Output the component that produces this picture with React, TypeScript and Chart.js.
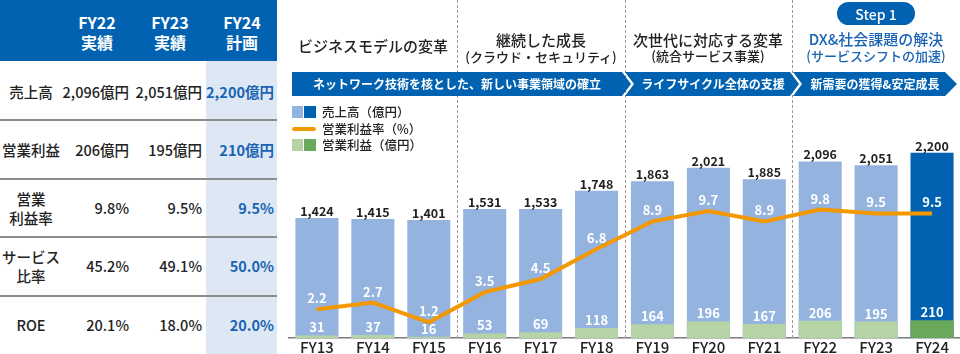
import React, { useEffect, useRef } from "react";
import { Chart, registerables } from "chart.js";
Chart.register(...registerables);

// ---------- data ----------
const categories = ["FY13", "FY14", "FY15", "FY16", "FY17", "FY18", "FY19", "FY20", "FY21", "FY22", "FY23", "FY24"];
const revenue = [1424, 1415, 1401, 1531, 1533, 1748, 1863, 2021, 1885, 2096, 2051, 2200];
const opProfit = [31, 37, 16, 53, 69, 118, 164, 196, 167, 206, 195, 210];
const opMargin = [2.2, 2.7, 1.2, 3.5, 4.5, 6.8, 8.9, 9.7, 8.9, 9.8, 9.5, 9.5];

const tableColumns = ["FY22", "FY23", "FY24"];
const tableColumnSub = ["実績", "実績", "計画"];
const tableRowLabels = [["売上高"], ["営業利益"], ["営業", "利益率"], ["サービス", "比率"], ["ROE"]];
const tableFY22 = ["2,096億円", "206億円", "9.8%", "45.2%", "20.1%"];
const tableFY23 = ["2,051億円", "195億円", "9.5%", "49.1%", "18.0%"];
const tableFY24 = ["2,200億円", "210億円", "9.5%", "50.0%", "20.0%"];

const phaseTitles = ["ビジネスモデルの変革", "継続した成長", "次世代に対応する変革", "DX&社会課題の解決"];
const phaseSubtitles = ["", "(クラウド・セキュリティ)", "(統合サービス事業)", "(サービスシフトの加速)"];
const stepLabel = "Step 1";
const bannerTexts = ["ネットワーク技術を核とした、新しい事業領域の確立", "ライフサイクル全体の支援", "新需要の獲得&安定成長"];
const legendLabels = ["売上高（億円）", "営業利益率（%）", "営業利益（億円）"];

// ---------- styles ----------
const FONT = '"Noto Sans CJK JP", "Noto Sans", sans-serif';
const BLUE = "#0062b1";
const LIGHT_BLUE_BAR = "#94b4df";
const LIGHT_GREEN = "#b5d3a5";
const DARK_GREEN = "#6aa85b";
const ORANGE = "#f39800";
const TEXT = "#222222";
const BLUE_TEXT = "#1a64b4";

const fmt = (v: number) => v.toLocaleString("en-US");

const T = (p: { x: number; y: number; s: number; c?: string; w?: number; align?: string; children: any }) => {
  const tx = p.align === "right" ? "-100%" : p.align === "left" ? "0" : "-50%";
  return (
    <div
      style={{
        position: "absolute",
        left: p.x,
        top: p.y,
        transform: `translate(${tx},-50%)`,
        fontSize: p.s,
        color: p.c || TEXT,
        fontWeight: p.w || 500,
        whiteSpace: "nowrap",
        lineHeight: 1,
        fontFamily: FONT,
      }}
    >
      {p.children}
    </div>
  );
};

const labelsPlugin = {
  id: "valueLabels",
  beforeDatasetsDraw(chart: any) {
    const ctx = chart.ctx;
    const xs = chart.scales.x;
    const area = chart.chartArea;
    ctx.save();
    ctx.strokeStyle = "#9a9a9a";
    ctx.lineWidth = 1;
    ctx.setLineDash([3, 2]);
    [2, 5, 8].forEach((i) => {
      const x = Math.round((xs.getPixelForValue(i) + xs.getPixelForValue(i + 1)) / 2) + 0.5;
      ctx.beginPath();
      ctx.moveTo(x, 0);
      ctx.lineTo(x, area.bottom);
      ctx.stroke();
    });
    ctx.restore();
  },
  afterDatasetsDraw(chart: any) {
    const ctx = chart.ctx;
    const lineMeta = chart.getDatasetMeta(0);
    const profMeta = chart.getDatasetMeta(1);
    const revMeta = chart.getDatasetMeta(2);
    ctx.save();
    ctx.textAlign = "center";
    ctx.textBaseline = "middle";
    revMeta.data.forEach((el: any, i: number) => {
      ctx.font = `bold 12.5px ${FONT}`;
      ctx.fillStyle = TEXT;
      ctx.fillText(fmt(revenue[i]), el.x, el.y - 7);
    });
    profMeta.data.forEach((el: any, i: number) => {
      ctx.font = `bold 13px ${FONT}`;
      ctx.fillStyle = "#ffffff";
      ctx.fillText(String(opProfit[i]), el.x, el.y - 8);
    });
    lineMeta.data.forEach((el: any, i: number) => {
      ctx.font = `bold 13px ${FONT}`;
      ctx.fillStyle = "#ffffff";
      ctx.fillText(opMargin[i].toFixed(1), el.x, el.y - 11);
    });
    ctx.restore();
  },
};

function ChartCanvas() {
  const ref = useRef<HTMLCanvasElement>(null);
  useEffect(() => {
    const last = categories.length - 1;
    const chart = new Chart(ref.current as HTMLCanvasElement, {
      type: "bar",
      data: {
        labels: categories,
        datasets: [
          {
            type: "line",
            label: legendLabels[1],
            data: opMargin,
            yAxisID: "y2",
            borderColor: ORANGE,
            borderWidth: 4,
            pointRadius: 0,
            tension: 0,
            fill: false,
          } as any,
          {
            type: "bar",
            label: legendLabels[2],
            data: opProfit,
            yAxisID: "y",
            backgroundColor: categories.map((_, i) => (i === last ? DARK_GREEN : LIGHT_GREEN)),
            barPercentage: 0.77,
            categoryPercentage: 1,
            grouped: false,
          },
          {
            type: "bar",
            label: legendLabels[0],
            data: revenue,
            yAxisID: "y",
            backgroundColor: categories.map((_, i) => (i === last ? BLUE : LIGHT_BLUE_BAR)),
            barPercentage: 0.77,
            categoryPercentage: 1,
            grouped: false,
          },
        ],
      },
      options: {
        responsive: false,
        animation: false,
        devicePixelRatio: 1,
        layout: { padding: { left: 12, right: 0, top: 0, bottom: 0 } },
        plugins: { legend: { display: false }, tooltip: { enabled: false } },
        scales: {
          x: {
            grid: { display: false, drawTicks: false },
            border: { display: true, color: "#7a7a7a", width: 1.5 },
            ticks: { font: { family: FONT, size: 15, weight: 500 }, color: TEXT, padding: 0, maxRotation: 0, autoSkip: false },
            afterFit: (s: any) => {
              s.height = 16;
            },
          },
          y: { display: false, min: 0, max: 4015 },
          y2: { display: false, min: 0, max: 25.8, position: "right" },
        },
      } as any,
      plugins: [labelsPlugin],
    });
    return () => chart.destroy();
  }, []);
  return <canvas ref={ref} width={683} height={354} style={{ position: "absolute", left: 277, top: 0, width: 683, height: 354 }} />;
}

export default function App() {
  const rowY = [92, 150, 208, 266, 325];
  const colRight = [129, 202, 274];
  const colCenter = [97, 170, 242];
  const sepY = [119, 178, 236, 295];
  const valueCols = [tableFY22, tableFY23, tableFY24];
  const titleX = [373, 541, 708, 876];
  const bannerTextX = [457, 713, 875];
  return (
    <div style={{ position: "fixed", left: 0, top: 0, width: 960, height: 354, background: "#fff", overflow: "hidden", fontFamily: FONT }}>
      {/* table */}
      <div style={{ position: "absolute", left: 0, top: 0, width: 277, height: 61, background: BLUE }} />
      <div style={{ position: "absolute", left: 206, top: 61, width: 71, height: 293, background: "#dee8f5" }} />
      {sepY.map((y, i) => (
        <div key={i} style={{ position: "absolute", left: 0, top: y, width: 277, height: 2, background: "#8c8c8c" }} />
      ))}
      {tableColumns.map((c, i) => (
        <React.Fragment key={c}>
          <T x={colCenter[i]} y={22} s={16} c="#fff" w={700}>{c}</T>
          <T x={colCenter[i]} y={42} s={16} c="#fff" w={700}>{tableColumnSub[i]}</T>
        </React.Fragment>
      ))}
      {tableRowLabels.map((lines, r) =>
        lines.map((l, k) => (
          <T key={`${r}-${k}`} x={31} y={rowY[r] + (k - (lines.length - 1) / 2) * 19} s={14.5}>
            {l}
          </T>
        ))
      )}
      {valueCols.map((col, ci) =>
        col.map((v, r) => (
          <T key={`${ci}-${r}`} x={colRight[ci]} y={rowY[r]} s={14.5} align="right" c={ci === 2 ? BLUE_TEXT : TEXT} w={ci === 2 ? 700 : 500}>
            {v}
          </T>
        ))
      )}

      {/* chart */}
      <ChartCanvas />

      {/* banner */}
      <svg width={960} height={354} style={{ position: "absolute", left: 0, top: 0 }}>
        <polygon points="292,72 622,72 631,84 622,96 292,96" fill={BLUE} />
        <polygon points="625,72 790,72 799,84 790,96 625,96 634,84" fill={BLUE} />
        <polygon points="793,72 945,72 957,84 945,96 793,96 802,84" fill={BLUE} />
        <rect x={837} y={2} width={78} height={23} rx={11.5} fill={BLUE} />
      </svg>
      {bannerTexts.map((b, i) => (
        <T key={b} x={bannerTextX[i]} y={84} s={12} c="#fff" w={700}>{b}</T>
      ))}
      <T x={876} y={14} s={14} c="#fff" w={500}>{stepLabel}</T>

      {/* phase titles */}
      <T x={titleX[0]} y={45} s={15}>{phaseTitles[0]}</T>
      <T x={titleX[1]} y={39} s={15}>{phaseTitles[1]}</T>
      <T x={titleX[1]} y={56} s={13}>{phaseSubtitles[1]}</T>
      <T x={titleX[2]} y={39} s={15}>{phaseTitles[2]}</T>
      <T x={titleX[2]} y={55} s={13}>{phaseSubtitles[2]}</T>
      <T x={titleX[3]} y={38} s={15} c={BLUE_TEXT}>{phaseTitles[3]}</T>
      <T x={titleX[3]} y={55} s={13} c={BLUE_TEXT}>{phaseSubtitles[3]}</T>

      {/* legend */}
      <div style={{ position: "absolute", left: 292, top: 106, width: 11, height: 12, background: LIGHT_BLUE_BAR }} />
      <div style={{ position: "absolute", left: 304, top: 106, width: 12, height: 12, background: BLUE }} />
      <T x={322} y={112} s={12.5} align="left">{legendLabels[0]}</T>
      <div style={{ position: "absolute", left: 292, top: 127, width: 24, height: 4, background: ORANGE, borderRadius: 2 }} />
      <T x={322} y={129} s={12.5} align="left">{legendLabels[1]}</T>
      <div style={{ position: "absolute", left: 292, top: 139, width: 11, height: 12, background: LIGHT_GREEN }} />
      <div style={{ position: "absolute", left: 304, top: 139, width: 12, height: 12, background: DARK_GREEN }} />
      <T x={322} y={145} s={12.5} align="left">{legendLabels[2]}</T>
    </div>
  );
}
